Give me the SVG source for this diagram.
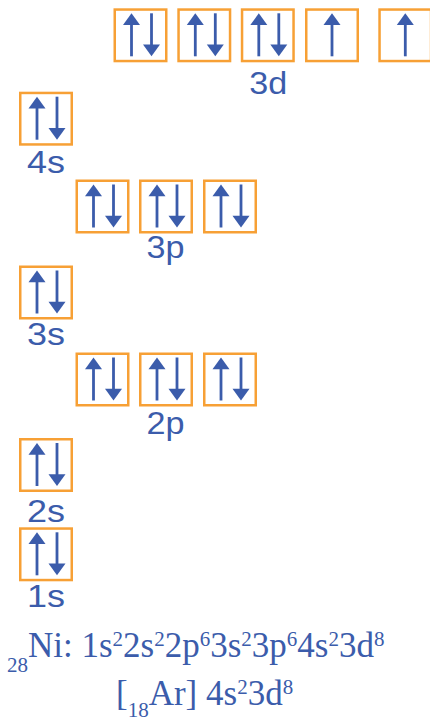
<svg xmlns="http://www.w3.org/2000/svg" xmlns:xlink="http://www.w3.org/1999/xlink" width="430" height="722" viewBox="0 0 430 722">
<style>
.box{fill:#ffffff;stroke:#F7A035;stroke-width:2.5}
.shaft{stroke:#3B5CAB;stroke-width:2.8;fill:none}
.head{fill:#3B5CAB}
.lbl{font-family:"Liberation Sans",Arial,sans-serif;font-size:31px;fill:#3B5CAB;text-anchor:middle}
.cfg{font-family:"Liberation Serif","Times New Roman",serif;font-size:35px;fill:#3B5CAB}
</style>
<defs>
<g id="pair">
<rect class="box" x="1.25" y="1.25" width="51.5" height="51.5"/>
<line class="shaft" x1="18" y1="14" x2="18" y2="48"/>
<polygon class="head" points="18,5 9.5,16.8 26.5,16.8"/>
<line class="shaft" x1="38" y1="5" x2="38" y2="39"/>
<polygon class="head" points="38,48 29.5,36.2 46.5,36.2"/>
</g>
<g id="single">
<rect class="box" x="1.25" y="1.25" width="51.5" height="51.5"/>
<line class="shaft" x1="27" y1="14" x2="27" y2="48"/>
<polygon class="head" points="27,5 18.5,16.8 35.5,16.8"/>
</g>
</defs>
<g id="connectors"></g>
<g id="orbital-3d">
<use xlink:href="#pair" x="113.5" y="8.3"/>
<use xlink:href="#pair" x="177.3" y="8.3"/>
<use xlink:href="#pair" x="240.8" y="8.3"/>
<use xlink:href="#single" x="305" y="8.3"/>
<use xlink:href="#single" x="378.3" y="8.3"/>
<text class="lbl" x="268.3" y="94.3" textLength="38" lengthAdjust="spacingAndGlyphs">3d</text>
</g>
<g id="orbital-4s">
<use xlink:href="#pair" x="19" y="91.7"/>
<text class="lbl" x="46" y="173.3" textLength="38" lengthAdjust="spacingAndGlyphs">4s</text>
</g>
<g id="orbital-3p">
<use xlink:href="#pair" x="75.5" y="179.5"/>
<use xlink:href="#pair" x="139" y="179.5"/>
<use xlink:href="#pair" x="203" y="179.5"/>
<text class="lbl" x="165.5" y="258.3" textLength="38" lengthAdjust="spacingAndGlyphs">3p</text>
</g>
<g id="orbital-3s">
<use xlink:href="#pair" x="19" y="265.5"/>
<text class="lbl" x="46" y="345" textLength="38" lengthAdjust="spacingAndGlyphs">3s</text>
</g>
<g id="orbital-2p">
<use xlink:href="#pair" x="75.5" y="352.5"/>
<use xlink:href="#pair" x="139" y="352.5"/>
<use xlink:href="#pair" x="203" y="352.5"/>
<text class="lbl" x="165.5" y="434.3" textLength="38" lengthAdjust="spacingAndGlyphs">2p</text>
</g>
<g id="orbital-2s">
<use xlink:href="#pair" x="19" y="438"/>
<text class="lbl" x="46" y="521.7" textLength="38" lengthAdjust="spacingAndGlyphs">2s</text>
</g>
<g id="orbital-1s">
<use xlink:href="#pair" x="19" y="527.3"/>
<text class="lbl" x="46" y="606.7" textLength="38" lengthAdjust="spacingAndGlyphs">1s</text>
</g>
<g id="config">
<text class="cfg" x="7" y="656.7"><tspan font-size="21" dy="15">28</tspan><tspan dy="-15">Ni: 1s</tspan><tspan font-size="21" dy="-11">2</tspan><tspan dy="11">2s</tspan><tspan font-size="21" dy="-11">2</tspan><tspan dy="11">2p</tspan><tspan font-size="21" dy="-11">6</tspan><tspan dy="11">3s</tspan><tspan font-size="21" dy="-11">2</tspan><tspan dy="11">3p</tspan><tspan font-size="21" dy="-11">6</tspan><tspan dy="11">4s</tspan><tspan font-size="21" dy="-11">2</tspan><tspan dy="11">3d</tspan><tspan font-size="21" dy="-11">8</tspan></text>
<text class="cfg" x="116" y="705"><tspan>[</tspan><tspan font-size="21" dy="12">18</tspan><tspan dy="-12">Ar] 4s</tspan><tspan font-size="21" dy="-11">2</tspan><tspan dy="11">3d</tspan><tspan font-size="21" dy="-11">8</tspan></text>
</g>
</svg>
